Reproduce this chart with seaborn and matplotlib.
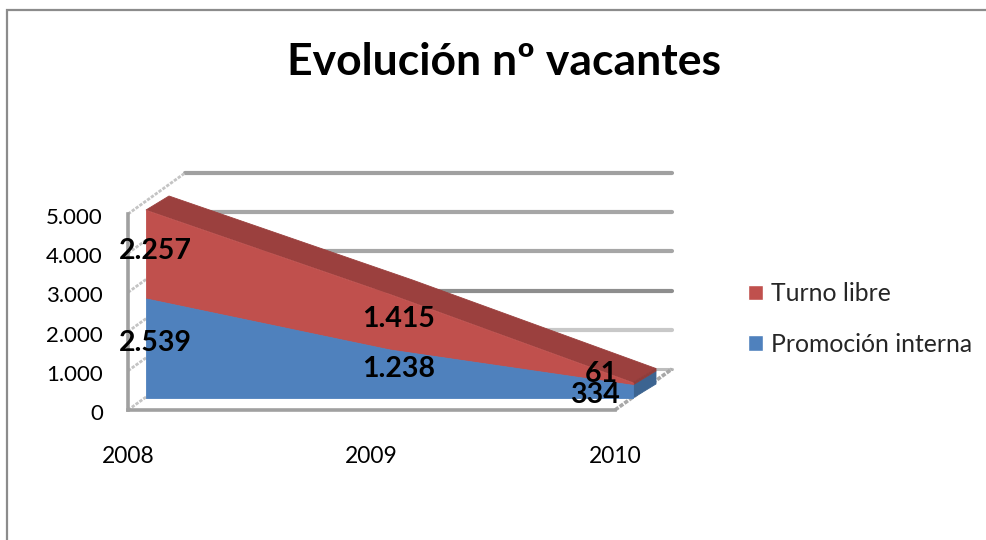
import matplotlib
matplotlib.use("Agg")
import matplotlib.pyplot as plt
from matplotlib.patches import Patch, Polygon, Rectangle
from matplotlib.transforms import ScaledTranslation
import numpy as np
import seaborn as sns

# ---- data ----
years = [2008, 2009, 2010]
promocion_interna = [2539, 1238, 334]
turno_libre = [2257, 1415, 61]
promocion_labels = ["2.539", "1.238", "334"]
turno_labels = ["2.257", "1.415", "61"]
y_ticks = [0, 1000, 2000, 3000, 4000, 5000]
y_tick_labels = ["0", "1.000", "2.000", "3.000", "4.000", "5.000"]
title = "Evolución nº vacantes"

# ---- style ----
BLUE, RED = "#4F81BD", "#C0504D"
RED_TOP, BLUE_SIDE, RED_SIDE = "#9B403E", "#3C6491", "#8F3C3A"
FONT = "Lato"
W, H = 987, 540

sns.set_theme(style="white")
plt.rcParams["font.family"] = [FONT, "DejaVu Sans"]

fig = plt.figure(figsize=(W / 100, H / 100), dpi=100, facecolor="white")
ax = fig.add_axes([128 / W, (H - 410) / H, (615 - 128) / W, 196 / H])
ax.set_xlim(years[0], years[-1])
ax.set_ylim(0, 5000)
ax.patch.set_alpha(0)

px_x = (years[-1] - years[0]) / (615 - 128)   # data units per pixel
px_y = 5000 / 196


def project(x, y, dx_px, dy_px):
    """Shift data coordinates by an oblique depth given in pixels."""
    return np.asarray(x, float) + dx_px * px_x, np.asarray(y, float) + dy_px * px_y


FRONT = (18, 12)     # front plane of the area
BACK = (41, 26)      # back plane of the area
WALL = (57, 41)      # back wall of the chart

base = np.zeros(len(years))
blue_top = np.array(promocion_interna, float)
red_top = blue_top + np.array(turno_libre, float)

# back wall gridlines and left wall diagonals
wall_greys = ["#BDBDBD", "#C8C8C8", "#8E8E8E", "#A6A6A6", "#A6A6A6", "#A0A0A0"]
for tick, grey in zip(y_ticks, wall_greys):
    if tick == 0:
        continue
    wx, wy = project([years[0], years[-1]], [tick, tick], *WALL)
    sns.lineplot(x=wx, y=wy, ax=ax, color=grey, lw=3.0, clip_on=False, legend=False, zorder=1)
    lx, ly = project([years[0]], [tick], *WALL)
    ax.plot([years[0], lx[0]], [tick, ly[0]], color="#C4C4C4", lw=2.0, ls=(0, (1.2, 0.5)),
            clip_on=False, zorder=1)

# floor back edge, floor diagonals
wx, wy = project([years[0], years[-1]], [0, 0], *WALL)
ax.plot(wx, wy, color="#BDBDBD", lw=2.2, clip_on=False, zorder=1)
ax.plot([years[0], wx[0]], [0, wy[0]], color="#C4C4C4", lw=2.0, ls=(0, (1.2, 0.5)),
        clip_on=False, zorder=1)
ax.plot([years[-1], wx[1]], [0, wy[1]], color="#A8A8A8", lw=2.6, ls=(0, (1.2, 0.4)),
        clip_on=False, zorder=1)


def poly(xs, ys, color, z=3):
    ax.add_patch(Polygon(np.column_stack([xs, ys]), closed=True, facecolor=color,
                         edgecolor=color, lw=0.6, clip_on=False, zorder=z))


# top face of the stack
fx, fy = project(years, red_top, *FRONT)
bx, by = project(years, red_top, *BACK)
poly(np.r_[fx, bx[::-1]], np.r_[fy, by[::-1]], RED_TOP)

# right side faces
for low, high, color in [(0, blue_top[-1], BLUE_SIDE), (blue_top[-1], red_top[-1], RED_SIDE)]:
    ax_f = project([years[-1]] * 2, [low, high], *FRONT)
    ax_b = project([years[-1]] * 2, [high, low], *BACK)
    poly(np.r_[ax_f[0], ax_b[0]], np.r_[ax_f[1], ax_b[1]], color)

# front faces
xf, y0 = project(years, base, *FRONT)
_, y1 = project(years, blue_top, *FRONT)
_, y2 = project(years, red_top, *FRONT)
ax.fill_between(xf, y1, y2, facecolor=RED, edgecolor=RED, lw=0.6, clip_on=False, zorder=4)
ax.fill_between(xf, y0, y1, facecolor=BLUE, edgecolor=BLUE, lw=0.6, clip_on=False, zorder=4)

# axes frame
for s in ["top", "right"]:
    ax.spines[s].set_visible(False)
for s in ["left", "bottom"]:
    ax.spines[s].set_color("#A0A0A0")
    ax.spines[s].set_linewidth(2.6)
    ax.spines[s].set_zorder(2)
ax.set_xticks(years, [str(y) for y in years])
ax.set_yticks(y_ticks, y_tick_labels)
ax.tick_params(axis="x", length=4, width=1.4, color="#8C8C8C", pad=22,
               labelsize=16.4, labelcolor="black")
ax.tick_params(axis="y", length=5, width=1.4, color="#8C8C8C", pad=13,
               labelsize=16, labelcolor="black")
ax.set_xlabel("")
ax.set_ylabel("")
down = ScaledTranslation(0, -2 / 100, fig.dpi_scale_trans)
for lab in ax.get_yticklabels():
    lab.set_transform(lab.get_transform() + down)

# data labels
blue_mid = blue_top / 2
red_mid = blue_top + np.array(turno_libre) / 2
blue_off = [(9, 5), (9, 5), (-38, -4)]
red_off = [(9, 3), (9, 3), (-32, 10)]
for i, yr in enumerate(years):
    for mid, txt, off in [(blue_mid[i], promocion_labels[i], blue_off[i]),
                          (red_mid[i], turno_labels[i], red_off[i])]:
        px, py = project(yr, mid, *FRONT)
        ax.annotate(txt, (float(px), float(py)), xytext=(off[0] * 0.72, off[1] * 0.72),
                    textcoords="offset points", ha="center", va="center",
                    fontsize=20.5, fontweight="bold", color="black",
                    zorder=6, annotation_clip=False)

# title
fig.text(504 / W, 1 - 62 / H, title, ha="center", va="center",
         fontsize=32, fontweight="bold", color="black")

# legend
handles = [Patch(facecolor=RED, label="Turno libre"),
           Patch(facecolor=BLUE, label="Promoción interna")]
fig.legend(handles=handles, loc="center left", bbox_to_anchor=(748 / W, 1 - 319 / H),
           frameon=False, fontsize=17.8, handlelength=0.6, handleheight=0.6,
           handletextpad=0.32, labelspacing=1.12, borderpad=0, borderaxespad=0)

# chart border
fig.add_artist(Rectangle((7 / W, -0.1), 1.1, 1 - 9.5 / H + 0.1, transform=fig.transFigure,
                         facecolor="none", edgecolor="#8C8C8C", lw=1.6, zorder=0))

fig.savefig("out.png", dpi=100)
